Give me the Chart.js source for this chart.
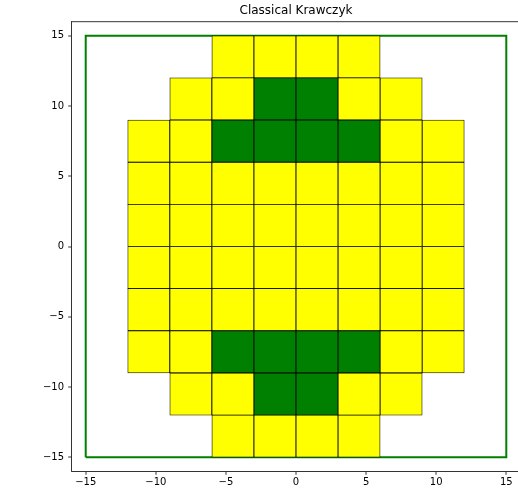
<!DOCTYPE html>
<html>
<head>
<meta charset="utf-8">
<title>Classical Krawczyk</title>
<script src="https://cdn.jsdelivr.net/npm/chart.js@4/dist/chart.umd.min.js"></script>
<style>
  html, body { margin: 0; padding: 0; overflow: hidden; background: #fff; }
  #wrap { position: relative; width: 522px; height: 494px; }
</style>
</head>
<body>
<div id="wrap"><canvas id="chart" width="522" height="494"></canvas></div>
<script>
// Column centres of the 3x3 boxes
const colCenters = [-10.5, -7.5, -4.5, -1.5, 1.5, 4.5, 7.5, 10.5];
// Lower edge of each row of boxes, top row first
const rowBottoms = [12, 9, 6, 3, 0, -3, -6, -9, -12, -15];
const boxSize = 3;
// Box state per row: Y = yellow, G = green, . = empty
const rowStates = [
  "..YYYY..",
  ".YYGGYY.",
  "YYGGGGYY",
  "YYYYYYYY",
  "YYYYYYYY",
  "YYYYYYYY",
  "YYYYYYYY",
  "YYGGGGYY",
  ".YYGGYY.",
  "..YYYY.."
];
// Outer search domain
const frameX = [-15, 15, 15, -15, -15];
const frameY = [-15, -15, 15, 15, -15];
// Axis ticks
const xTicks = [-15, -10, -5, 0, 5, 10, 15];
const yTicks = [-15, -10, -5, 0, 5, 10, 15];

const stateColors = { Y: '#ffff00', G: '#008000' };

const boxes = [];
const boxColors = [];
rowStates.forEach((row, r) => {
  row.split('').forEach((s, c) => {
    if (s === '.') return;
    boxes.push({ x: colCenters[c], y: [rowBottoms[r], rowBottoms[r] + boxSize] });
    boxColors.push(stateColors[s]);
  });
});

const frame = frameX.map((x, i) => ({ x, y: frameY[i] }));

Chart.defaults.font.family = "'DejaVu Sans', sans-serif";
Chart.defaults.color = '#000';

const minus = v => String(v).replace('-', '\u2212');

// Top spine of the axes box
const topSpine = {
  id: 'topSpine',
  afterDraw(chart) {
    const { ctx, chartArea } = chart;
    ctx.save();
    ctx.strokeStyle = '#000';
    ctx.lineWidth = 0.8;
    ctx.beginPath();
    ctx.moveTo(chartArea.left, chartArea.top);
    ctx.lineTo(chartArea.right, chartArea.top);
    ctx.stroke();
    ctx.restore();
  }
};

const axisCommon = {
  type: 'linear',
  min: -16,
  max: 16,
  offset: false,
  grid: {
    display: true,
    offset: false,
    drawOnChartArea: false,
    drawTicks: true,
    lineWidth: 0,
    tickLength: 3.5,
    tickWidth: 0.8,
    tickColor: '#000'
  },
  border: { display: true, color: '#000', width: 0.8 }
};

new Chart(document.getElementById('chart'), {
  type: 'bar',
  data: {
    datasets: [
      {
        type: 'bar',
        data: boxes,
        backgroundColor: boxColors,
        borderColor: '#000',
        borderWidth: 0.8,
        borderSkipped: false,
        barPercentage: 1,
        categoryPercentage: 1,
        grouped: false,
        order: 1
      },
      {
        type: 'line',
        data: frame,
        borderColor: '#008000',
        borderWidth: 2,
        pointRadius: 0,
        fill: false,
        tension: 0,
        order: 2
      }
    ]
  },
  options: {
    responsive: false,
    animation: false,
    events: [],
    layout: { padding: { left: 0, right: 1.7, top: 0, bottom: 0 } },
    plugins: {
      legend: { display: false },
      tooltip: { enabled: false },
      title: {
        display: true,
        text: 'Classical Krawczyk',
        fullSize: false,
        color: '#000',
        font: { size: 12, weight: 'normal', lineHeight: 1.2 },
        padding: { top: 3.8, bottom: 3.5 }
      }
    },
    scales: {
      x: {
        ...axisCommon,
        position: 'bottom',
        afterFit(scale) { scale.height = 22.7; },
        afterBuildTicks(scale) { scale.ticks = xTicks.map(v => ({ value: v })); },
        ticks: { padding: 1.2, font: { size: 10 }, color: '#000', maxRotation: 0, callback: v => minus(v) }
      },
      y: {
        ...axisCommon,
        position: 'left',
        afterFit(scale) { scale.width = 71.7; },
        afterBuildTicks(scale) { scale.ticks = yTicks.map(v => ({ value: v })); },
        ticks: { padding: 4.2, font: { size: 10 }, color: '#000', callback: v => minus(v) }
      }
    }
  },
  plugins: [topSpine]
});
</script>
</body>
</html>
